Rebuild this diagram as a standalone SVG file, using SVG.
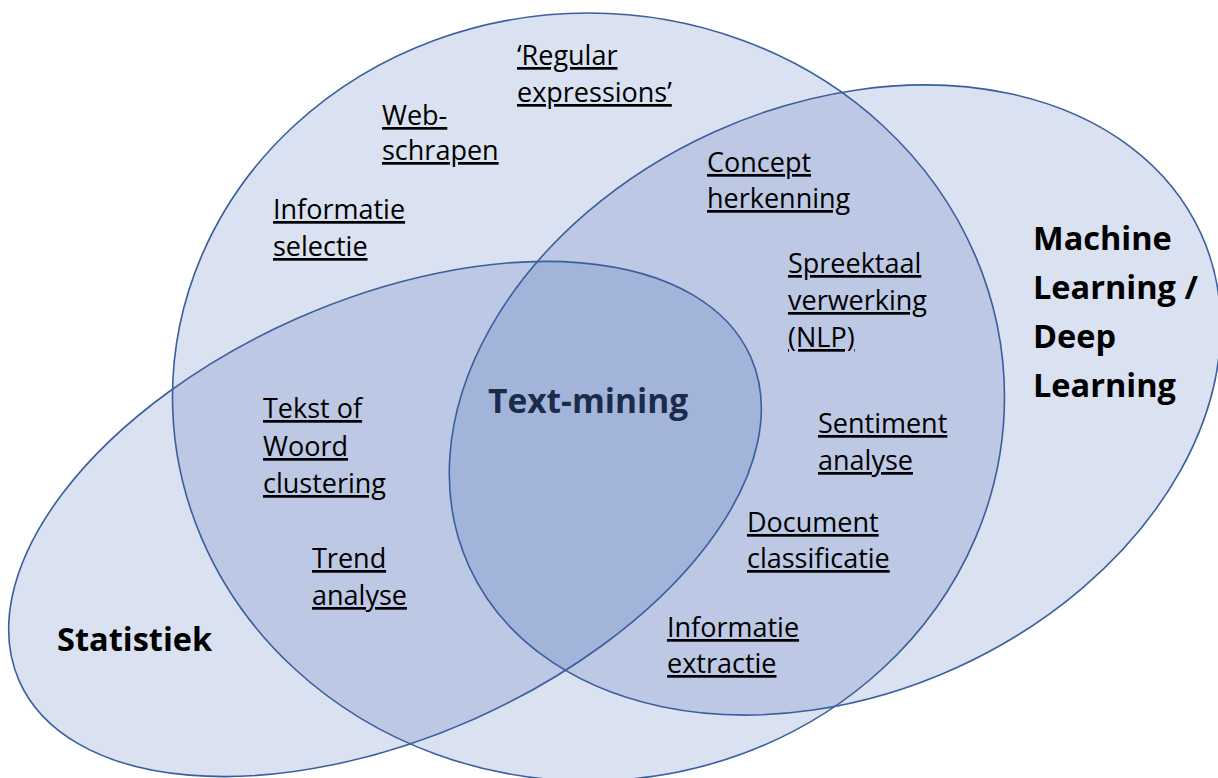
<svg xmlns="http://www.w3.org/2000/svg" width="1218" height="778" viewBox="0 0 1218 778">
<style>
.fill{fill:rgb(59,97,176);fill-opacity:0.19;stroke:none}
.edge{fill:none;stroke:#3b5f9e;stroke-width:1.6}
.item{font-family:"Open Sans","Liberation Sans",sans-serif;font-size:27px;fill:#000;text-decoration:underline;font-variant-ligatures:none}
.title{font-family:"Open Sans","Liberation Sans",sans-serif;font-size:32.5px;font-weight:bold;fill:#000}
.core{font-family:"Open Sans","Liberation Sans",sans-serif;font-size:33.5px;font-weight:bold;fill:#1c2b4a}
</style>
<rect width="1218" height="778" fill="#fff"/>
<g id="fills">
<ellipse class="fill" cx="588.5" cy="397" rx="416" ry="384"/>
<ellipse class="fill" cx="835" cy="400" rx="402" ry="294" transform="rotate(-24.4 835 400)"/>
<ellipse class="fill" cx="385" cy="519" rx="400" ry="219" transform="rotate(-23.9 385 519)"/>
</g>
<g id="node-tekstanalyse">
<ellipse class="edge" cx="588.5" cy="397" rx="416" ry="384"/>
</g>
<g id="node-ml">
<ellipse class="edge" cx="835" cy="400" rx="402" ry="294" transform="rotate(-24.4 835 400)"/>
<text class="title" x="1033" y="250">Machine</text>
<text class="title" x="1033" y="299">Learning /</text>
<text class="title" x="1033" y="348">Deep</text>
<text class="title" x="1033" y="397">Learning</text>
</g>
<g id="node-statistiek">
<ellipse class="edge" cx="385" cy="519" rx="400" ry="219" transform="rotate(-23.9 385 519)"/>
<text class="title" x="57" y="651">Statistiek</text>
</g>
<g id="node-textmining">
<text class="core" x="488" y="413">Text-mining</text>
</g>
<g id="connectors"></g>
<g id="items">
<text class="item" x="517" y="65">‘Regular</text>
<text class="item" x="517" y="102">expressions’</text>
<text class="item" x="382" y="125">Web-</text>
<text class="item" x="382" y="160">schrapen</text>
<text class="item" x="273" y="219">Informatie</text>
<text class="item" x="273" y="256">selectie</text>
<text class="item" x="707" y="172">Concept</text>
<text class="item" x="707" y="208">herkenning</text>
<text class="item" x="788" y="273">Spreektaal</text>
<text class="item" x="788" y="310">verwerking</text>
<text class="item" x="788" y="347">(NLP)</text>
<text class="item" x="818" y="433">Sentiment</text>
<text class="item" x="818" y="470">analyse</text>
<text class="item" x="747" y="532">Document</text>
<text class="item" x="747" y="568">classificatie</text>
<text class="item" x="667" y="637">Informatie</text>
<text class="item" x="667" y="673">extractie</text>
<text class="item" x="263" y="418">Tekst of</text>
<text class="item" x="263" y="456">Woord</text>
<text class="item" x="263" y="493">clustering</text>
<text class="item" x="312" y="568">Trend</text>
<text class="item" x="312" y="605">analyse</text>
</g>
</svg>
